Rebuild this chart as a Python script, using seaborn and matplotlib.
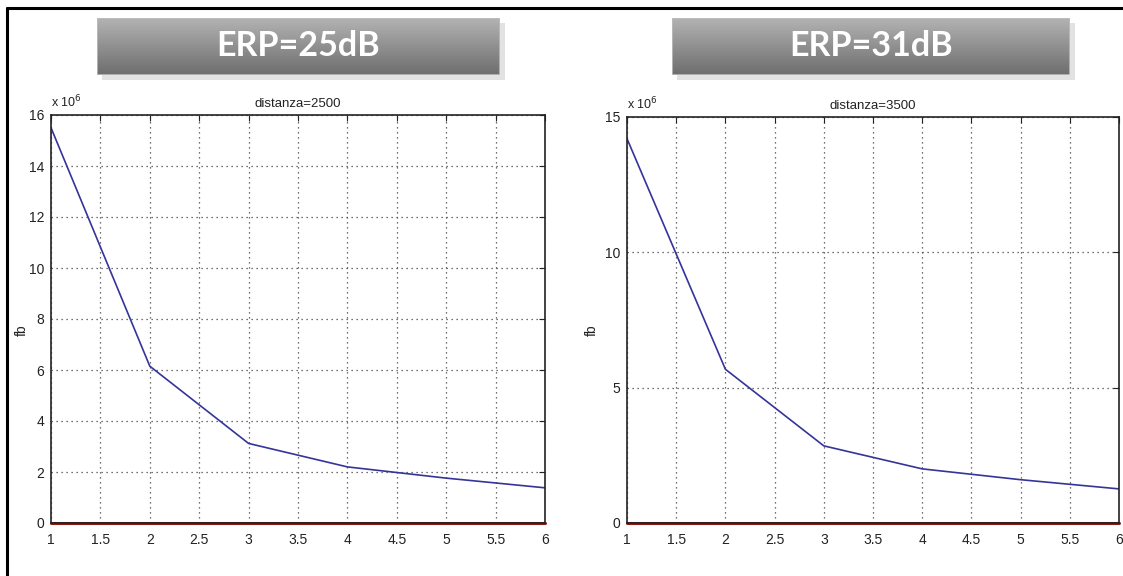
import numpy as np
import pandas as pd
import matplotlib
matplotlib.use("Agg")
import matplotlib.pyplot as plt
import seaborn as sns
from matplotlib.lines import Line2D
from matplotlib.patches import Rectangle

# ---- data (values in units of 1e6) ----
x_vals = [1, 2, 3, 4, 5, 6]
fb_2500 = [15.5, 6.15, 3.12, 2.2, 1.76, 1.38]
fb_3500 = [14.2, 5.68, 2.85, 2.0, 1.6, 1.26]
zero_line = [0, 0, 0, 0, 0, 0]
panel_titles = ["distanza=2500", "distanza=3500"]
box_titles = ["ERP=25dB", "ERP=31dB"]
x_ticks = [1, 1.5, 2, 2.5, 3, 3.5, 4, 4.5, 5, 5.5, 6]
x_ticklabels = ["1", "1.5", "2", "2.5", "3", "3.5", "4", "4.5", "5", "5.5", "6"]
y_ticks_left = [0, 2, 4, 6, 8, 10, 12, 14, 16]
y_ticks_right = [0, 5, 10, 15]

sns.set_style("white")
plt.rcParams['font.family'] = ['Liberation Sans', 'DejaVu Sans']

W, H = 1123, 576
fig = plt.figure(figsize=(W / 100, H / 100), dpi=100)
fig.patch.set_facecolor("white")

def fx(px):
    return px / W

def fy(py):
    return 1 - py / H

# outer frame lines (top and left)
fig.add_artist(Line2D([fx(7), 1.0], [fy(8), fy(8)], color="black", lw=2.2))
fig.add_artist(Line2D([fx(7), fx(7)], [fy(8), 0.0], color="black", lw=2.2))

panels = [
    dict(rect=[51, 115, 545, 523], y=fb_2500, yt=y_ticks_left, ylim=16,
         title=panel_titles[0], box=box_titles[0], box_px=(97, 18, 500, 75), ylab_x=22),
    dict(rect=[627, 117, 1119, 523], y=fb_3500, yt=y_ticks_right, ylim=15,
         title=panel_titles[1], box=box_titles[1], box_px=(672, 18, 1070, 75), ylab_x=592),
]

for p in panels:
    l, t, r, b = p["rect"]
    ax = fig.add_axes([fx(l), fy(b), fx(r) - fx(l), fy(t) - fy(b)])
    df = pd.DataFrame({"x": x_vals, "fb": p["y"], "z": zero_line})
    sns.lineplot(data=df, x="x", y="fb", ax=ax, color="#34349a", lw=1.2)
    sns.lineplot(data=df, x="x", y="z", ax=ax, color="#8b1a1a", lw=2.2, clip_on=False)
    ax.set_xlim(1, 6)
    ax.set_ylim(0, p["ylim"])
    ax.set_xticks(x_ticks)
    ax.set_xticklabels(x_ticklabels)
    ax.set_yticks(p["yt"])
    ax.set_yticklabels([str(v) for v in p["yt"]])
    ax.grid(True, linestyle=(0, (1, 3)), color="#444444", lw=0.9)
    ax.tick_params(direction="in", length=4, width=0.8, top=True, right=True,
                   labelsize=10, colors="#222222", pad=5)
    ax.tick_params(axis="x", pad=7)
    for s in ax.spines.values():
        s.set_color("#222222")
        s.set_linewidth(1.2)
        s.set_visible(True)
    ax.set_xlabel("")
    ax.set_ylabel("")
    ax.set_title(p["title"], fontsize=9.5, pad=6, color="#222222")
    ax.text(0.0, 1.012, r"x 10$^{6}$", transform=ax.transAxes, fontsize=9,
            ha="left", va="bottom", color="#222222")
    fig.text(fx(p["ylab_x"]), fy(330), "fb", rotation=90, fontsize=10,
             ha="center", va="center", color="#222222")

    # title box with gradient and shadow
    bl, bt, br, bb = p["box_px"]
    fig.add_artist(Rectangle((fx(bl + 5), fy(bb + 5)), fx(br) - fx(bl), fy(bt) - fy(bb),
                             transform=fig.transFigure, facecolor="#d0d0d0",
                             edgecolor="none", alpha=0.6, zorder=1))
    bax = fig.add_axes([fx(bl), fy(bb), fx(br) - fx(bl), fy(bt) - fy(bb)], zorder=2)
    grad = np.linspace(0.70, 0.43, 100).reshape(-1, 1)
    bax.imshow(np.repeat(grad, 2, axis=1), cmap="gray", vmin=0, vmax=1,
               aspect="auto", extent=[0, 1, 0, 1], origin="upper")
    bax.set_xlim(0, 1)
    bax.set_ylim(0, 1)
    bax.axis("off")
    bax.add_patch(Rectangle((0, 0), 1, 1, transform=bax.transAxes, fill=False,
                            edgecolor="#bdbdbd", lw=1.2))
    bax.text(0.5, 0.5, p["box"], transform=bax.transAxes, ha="center", va="center",
             fontsize=24.5, fontweight="bold", color="white", family=["Lato", "DejaVu Sans"])

fig.savefig("out.png", dpi=100, facecolor="white")
